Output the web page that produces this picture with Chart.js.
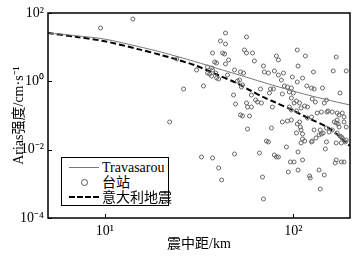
<!DOCTYPE html>
<html>
<head>
<meta charset="utf-8">
<script src="https://cdn.jsdelivr.net/npm/chart.js@4/dist/chart.umd.min.js"></script>
<style>
  body { margin: 0; background: #fff; }
  #wrap { position: relative; width: 356px; height: 256px; }
  .legend {
    position: absolute; left: 61px; top: 157px; width: 106px; height: 47px;
    border: 1px solid #000; background: #fff;
    font-family: 'Liberation Serif', 'Noto Sans CJK SC', serif; font-size: 14px; color: #000;
  }
  .row { position: absolute; left: 0; height: 15px; width: 106px; }
  .row span.t { position: absolute; left: 40px; top: 0; line-height: 15px; white-space: nowrap; }
  .sample { position: absolute; left: 7px; width: 30px; top: 7px; }
  .solid { border-top: 1px solid #777; }
  .dash { border-top: 2px dashed #000; top: 6px; }
  .dot { position: absolute; left: 19px; top: 4px; width: 5px; height: 5px; border: 1px solid #555; border-radius: 50%; }
</style>
</head>
<body>
<div id="wrap">
  <canvas id="chart" width="356" height="256"></canvas>
  <div class="legend">
    <div class="row" style="top:2px"><div class="sample solid"></div><span class="t">Travasarou</span></div>
    <div class="row" style="top:17px"><div class="dot"></div><span class="t">台站</span></div>
    <div class="row" style="top:32px"><div class="sample dash"></div><span class="t">意大利地震</span></div>
  </div>
</div>
<script>
// station records: epicentral distance (km) and Arias intensity (cm/s)
const stationDist = [9.5, 14.1, 22.1, 24.1, 26.2, 30.7, 33.4, 32.6, 37.3, 40.2, 41.7,
  35.1, 36.9, 37.3, 35.1, 36.0, 38.8, 36.9, 39.2, 40.2, 37.3, 38.3, 39.2, 41.1, 43.7, 43.7,
  42.2, 43.2, 45.4, 43.7, 44.8, 48.8, 52.5, 54.5, 50.6, 51.9, 53.1, 53.8, 48.2, 49.4, 56.5,
  52.5, 53.8, 58.6, 57.2, 56.5, 55.1, 56.5, 60.8, 62.2, 69.5, 70.3, 73.8, 79.4, 83.4, 88.7,
  81.4, 83.4, 105, 116, 106, 128, 98.9, 105, 112, 163, 191, 169, 86.5, 93.1, 97.7, 89.7,
  118, 125, 75.7, 78.5, 67.0, 129, 143, 177, 74.8, 87.5, 95.3, 100, 60.0, 63.1, 64.6, 67.8,
  97.7, 104, 101, 126, 131, 150, 146, 108, 60.0, 77.5, 95.3, 97.7, 104, 110, 115, 119,
  134, 141, 151, 161, 171, 175, 182, 186, 87.5, 93.1, 97.7, 108, 105, 109, 119, 125,
  165, 169, 173, 171, 186, 191, 76.6, 110, 112, 129, 141, 137, 144, 155, 161, 171, 177,
  182, 191, 175, 180, 189, 72.1, 73.8, 110, 115, 125, 132, 150, 180, 92.0, 104, 112,
  48.8, 66.2, 68.7, 69.5, 79.4, 81.4, 83.4, 96.6, 101, 112, 94.2, 106, 106, 122, 123,
  137, 146, 139, 148, 169, 167, 180, 186, 169, 57.2, 153, 139, 150, 126];
const stationArias = [36.4, 66.7, 0.0646, 4.51, 0.597, 2.15, 0.731, 0.00611, 0.00571, 0.00291, 0.0013,
  2.63, 2.46, 2.15, 1.75, 1.64, 1.75, 1.43, 1.25, 1.17, 6.75, 3.68, 3.44, 15.2, 12.4, 26.0,
  6.75, 6.31, 4.22, 3.22, 1.53, 2.15, 1.88, 1.75, 1.02, 1.09, 0.683, 0.782, 0.398, 0.217, 0.232,
  0.104, 0.0968, 0.0968, 0.0403, 19.9, 8.26, 6.75, 6.75, 3.94, 2.81, 1.88, 1.75, 2.01, 1.53, 1.75,
  5.52, 4.22, 8.26, 5.52, 2.81, 1.88, 1.34, 0.957, 1.25, 2.01, 2.01, 5.15, 1.09, 0.683, 0.638, 0.731,
  0.731, 0.638, 0.597, 0.597, 0.597, 0.597, 0.638, 0.456, 0.456, 0.427, 0.488, 0.456, 0.398, 0.284, 0.248, 0.232,
  0.325, 0.266, 0.232, 0.304, 0.248, 0.284, 0.232, 0.232, 0.177, 0.177, 0.177, 0.145, 0.136, 0.166, 0.19, 0.177,
  0.118, 0.127, 0.127, 0.127, 0.118, 0.104, 0.118, 0.0904, 0.0646, 0.069, 0.0739, 0.0646, 0.0565, 0.0461, 0.0845, 0.0904,
  0.0646, 0.0604, 0.0565, 0.0739, 0.0646, 0.0461, 0.0431, 0.0377, 0.0288, 0.0377, 0.0288, 0.0269, 0.0308, 0.0329, 0.0377, 0.0308, 0.0251,
  0.022, 0.0192, 0.0461, 0.0235, 0.0168, 0.0179, 0.0168, 0.0157, 0.0179, 0.0168, 0.022, 0.0168, 0.0157, 0.012, 0.0308, 0.0205,
  0.00748, 0.008, 0.00158, 0.00036, 0.00698, 0.00611, 0.00611, 0.00436, 0.00436, 0.00499, 0.00222, 0.00855, 0.00254, 0.0017, 0.00148,
  0.00254, 0.00182, 0.000707, 0.0105, 0.00499, 0.00407, 0.00436, 0.00436, 0.0157, 0.177, 0.136, 0.0377, 0.0431, 0.0179];

// attenuation curves
const curveDist = [5, 7, 10, 15, 20, 30, 40, 50, 60, 70, 80, 100, 120, 150, 170, 200];
const travasarou = [26.0, 21.7, 17.2, 10.5, 7.13, 3.81, 2.34, 1.62, 1.19, 0.918, 0.736, 0.518, 0.395, 0.292, 0.248, 0.203];
const italyQuake = [26.0, 20.2, 14.9, 8.78, 5.86, 2.97, 1.52, 0.894, 0.521, 0.337, 0.244, 0.140, 0.0845, 0.0473, 0.0288, 0.0128];

const xTicks = [10, 100];
const xTickLabels = ['10¹', '10²'];
const yTicks = [1e-4, 1e-2, 1, 100];
const yTickLabels = ['10⁻⁴', '10⁻²', '10⁰', '10²'];

const FONT = "'Liberation Serif', 'Noto Sans CJK SC', serif";

const toXY = (xs, ys) => xs.map((x, i) => ({ x: x, y: ys[i] }));

// box around the plot + inward tick marks
const framePlugin = {
  id: 'frame',
  afterDraw(chart) {
    const { ctx, chartArea: a, scales } = chart;
    ctx.save();
    ctx.strokeStyle = '#000';
    ctx.lineWidth = 1.5;
    ctx.strokeRect(a.left, a.top, a.right - a.left, a.bottom - a.top);
    ctx.lineWidth = 1;
    ctx.beginPath();
    yTicks.forEach(v => {
      const y = Math.round(scales.y.getPixelForValue(v)) + 0.5;
      ctx.moveTo(a.left, y); ctx.lineTo(a.left + 4, y);
    });
    xTicks.forEach(v => {
      const x = Math.round(scales.x.getPixelForValue(v)) + 0.5;
      ctx.moveTo(x, a.bottom); ctx.lineTo(x, a.bottom - 4);
    });
    ctx.stroke();
    ctx.restore();
  }
};

new Chart(document.getElementById('chart').getContext('2d'), {
  type: 'scatter',
  data: {
    datasets: [
      {
        label: 'Travasarou',
        data: toXY(curveDist, travasarou),
        showLine: true,
        borderColor: '#777',
        borderWidth: 1,
        pointRadius: 0,
        tension: 0.3
      },
      {
        label: '台站',
        data: toXY(stationDist, stationArias),
        pointRadius: 2,
        pointBorderWidth: 1,
        pointBorderColor: '#666',
        pointBackgroundColor: 'rgba(0,0,0,0)'
      },
      {
        label: '意大利地震',
        data: toXY(curveDist, italyQuake),
        showLine: true,
        borderColor: '#000',
        borderWidth: 2,
        borderDash: [6, 3],
        pointRadius: 0,
        tension: 0.3
      }
    ]
  },
  options: {
    responsive: false,
    animation: false,
    layout: { padding: { top: 13, right: 6, left: 0, bottom: 0 } },
    plugins: { legend: { display: false }, tooltip: { enabled: false } },
    scales: {
      x: {
        type: 'logarithmic',
        min: 5,
        max: 200,
        afterBuildTicks: s => { s.ticks = xTicks.map(v => ({ value: v })); },
        afterFit: s => { s.height = 38; },
        grid: { display: false, drawTicks: false },
        border: { display: false },
        ticks: {
          autoSkip: false, maxRotation: 0, padding: 5, color: '#000',
          font: { family: FONT, size: 14 },
          callback: v => xTickLabels[xTicks.indexOf(v)]
        },
        title: {
          display: true, text: '震中距/km', color: '#000',
          font: { family: FONT, size: 14 }, padding: { top: 0, bottom: 3 }
        }
      },
      y: {
        type: 'logarithmic',
        min: 1e-4,
        max: 100,
        afterBuildTicks: s => { s.ticks = yTicks.map(v => ({ value: v })); },
        afterFit: s => { s.width = 48; },
        grid: { display: false, drawTicks: false },
        border: { display: false },
        ticks: {
          autoSkip: false, padding: 4, color: '#000',
          font: { family: FONT, size: 14 },
          callback: v => yTickLabels[yTicks.indexOf(v)]
        },
        title: {
          display: true, text: 'Arias强度/cm·s⁻¹', color: '#000',
          font: { family: FONT, size: 14 }, padding: { top: 11, bottom: 0 }
        }
      }
    }
  },
  plugins: [framePlugin]
});
</script>
</body>
</html>
